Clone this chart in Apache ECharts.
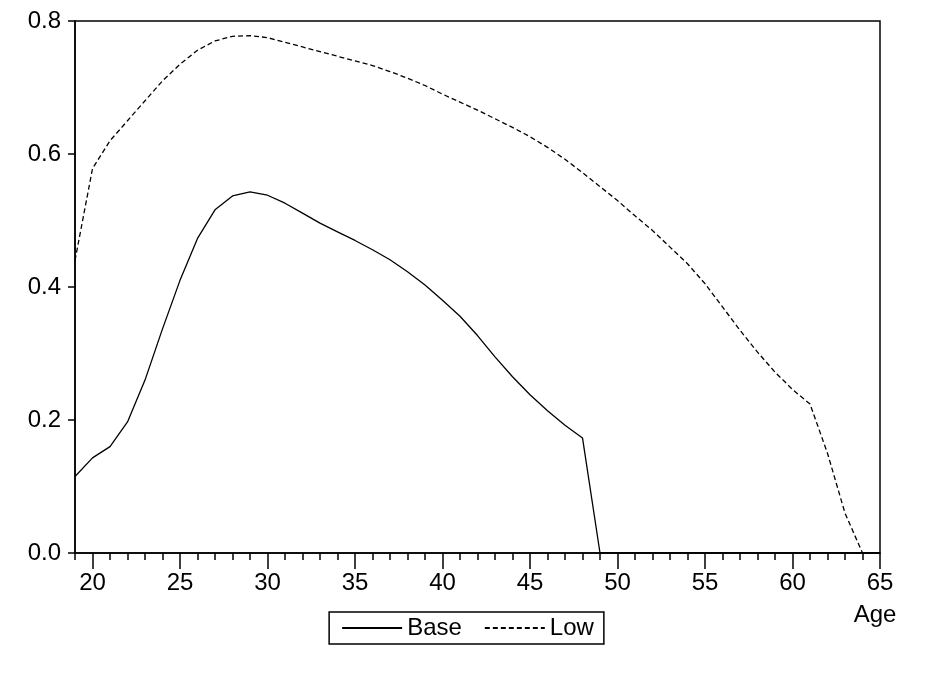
<!DOCTYPE html><html><head><meta charset="utf-8"><script src="https://cdn.jsdelivr.net/npm/echarts@6/dist/echarts.min.js"></script>
<style>html,body{margin:0;background:#fff}#c{width:935px;height:676px}</style></head><body><div id="c"></div><script>
const ages=[];for(let a=19;a<=65;a++)ages.push(a);
const baseVals=[0.115,0.143,0.16,0.197,0.26,0.337,0.41,0.473,0.516,0.537,0.543,0.538,0.526,0.511,0.496,0.483,0.47,0.456,0.441,0.423,0.403,0.38,0.356,0.327,0.295,0.265,0.238,0.214,0.192,0.173,0,0,0,0,0,0,0,0,0,0,0,0,0,0,0,0,0];
const lowVals=[0.44,0.578,0.62,0.65,0.68,0.71,0.735,0.756,0.77,0.777,0.778,0.775,0.768,0.761,0.754,0.747,0.74,0.733,0.724,0.714,0.703,0.69,0.678,0.666,0.653,0.64,0.626,0.61,0.592,0.572,0.551,0.53,0.507,0.485,0.46,0.435,0.405,0.37,0.335,0.302,0.272,0.246,0.224,0.15,0.06,0,0];
const majorTicks=[20,25,30,35,40,45,50,55,60,65];
const F='Liberation Sans, Arial, sans-serif';
const ch=echarts.init(document.getElementById('c'));
const pair=v=>ages.map((a,i)=>[a,v[i]]);
ch.setOption({animation:false,
grid:{left:75,right:55,top:21,bottom:123,show:true,borderColor:'#000',borderWidth:1.5},
legend:{bottom:32,left:'center',itemWidth:60,itemHeight:14,itemGap:22,padding:[4,10,4,12],borderColor:'#000',borderWidth:1.5,textStyle:{fontFamily:F,fontSize:24,color:'#000'},itemStyle:{color:'transparent',borderWidth:0},data:['Base','Low']},
xAxis:[{type:'value',min:19,max:65,name:'Age',nameLocation:'end',nameGap:0,nameTextStyle:{fontFamily:F,fontSize:24,color:'#000',align:'center',verticalAlign:'top',padding:[50,0,0,-10]},
axisLine:{onZero:false,lineStyle:{color:'#000',width:1.5}},splitLine:{show:false},
axisTick:{customValues:ages,length:7,lineStyle:{color:'#000',width:1.5}},
axisLabel:{customValues:majorTicks,fontFamily:F,fontSize:24,color:'#000',margin:18}},
{type:'value',min:19,max:65,position:'bottom',axisLine:{show:false},splitLine:{show:false},axisLabel:{show:false},axisTick:{customValues:majorTicks,length:16,lineStyle:{color:'#000',width:1.5}}}],
yAxis:{type:'value',min:0,max:0.8,interval:0.2,axisLine:{show:true,lineStyle:{color:'#000',width:1.5}},splitLine:{show:false},
axisTick:{show:true,length:7,lineStyle:{color:'#000',width:1.5}},axisLabel:{formatter:v=>v.toFixed(1),fontFamily:F,fontSize:24,color:'#000',margin:14}},
series:[{name:'Base',type:'line',data:pair(baseVals),symbol:'none',lineStyle:{color:'#000',width:1.3},itemStyle:{color:'#000'}},
{name:'Low',type:'line',data:pair(lowVals),symbol:'none',lineStyle:{color:'#000',width:1.3,type:[5,3]},itemStyle:{color:'#000'}}]});
</script></body></html>
